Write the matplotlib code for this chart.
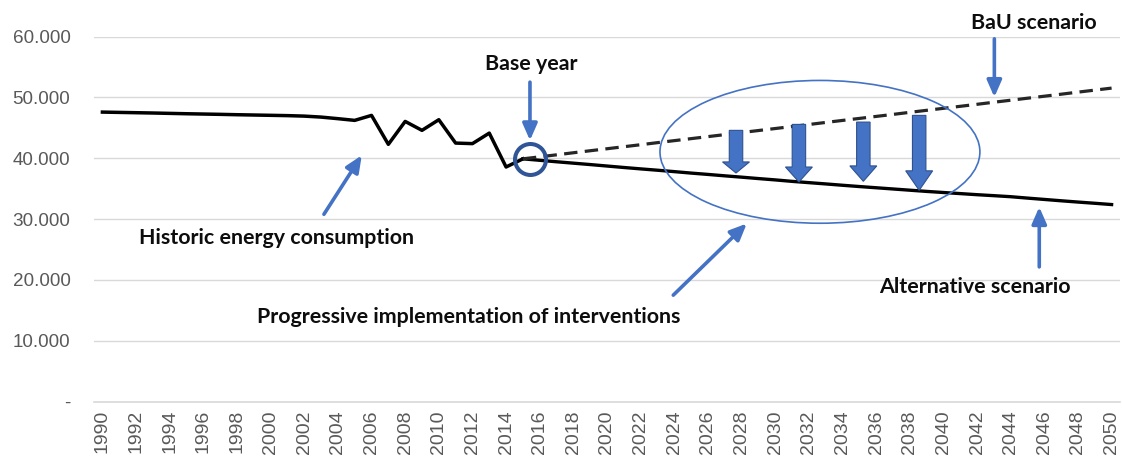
import matplotlib
matplotlib.use("Agg")
import matplotlib.pyplot as plt
from matplotlib.patches import Ellipse, FancyArrow
from matplotlib.ticker import FuncFormatter, FixedLocator

# ---- data -------------------------------------------------------------
hist_years = list(range(1990, 2016))
hist_energy = [47580, 47530, 47480, 47430, 47370, 47310, 47260, 47210, 47150,
               47100, 47050, 47000, 46920, 46760, 46500, 46220, 47040, 42280,
               46050, 44580, 46330, 42490, 42400, 44130, 38560, 39900]

proj_years = list(range(2015, 2051))
bau_energy = [39900, 40230, 40560, 40900, 41230, 41560, 41890, 42220, 42560,
              42890, 43220, 43550, 43880, 44220, 44550, 44880, 45210, 45540,
              45880, 46210, 46540, 46870, 47200, 47540, 47870, 48200, 48530,
              48860, 49200, 49530, 49860, 50190, 50520, 50860, 51190, 51520]
alt_energy = [39900, 39660, 39420, 39190, 38960, 38720, 38480, 38250, 38030,
              37800, 37560, 37340, 37110, 36890, 36660, 36440, 36200, 35990,
              35780, 35560, 35350, 35150, 34950, 34750, 34550, 34370, 34190,
              34010, 33850, 33680, 33450, 33230, 33010, 32800, 32600, 32390]

base_year = 2015.42
base_value = 39900

# savings arrows: x position, top and tip values
saving_x = [2027.67, 2031.41, 2035.24, 2038.56]
saving_top = [44580, 45560, 45940, 47040]
saving_tip = [37570, 36100, 36210, 34730]

y_ticks = [0, 10000, 20000, 30000, 40000, 50000, 60000]
x_tick_years = list(range(1990, 2051, 2))

# ---- style ------------------------------------------------------------
BLUE = "#4472C4"
DARK_BLUE = "#2F5597"
TICK_GREY = "#595959"
GRID_GREY = "#D9D9D9"
ANNOT_FONT = dict(family="Lato", fontweight="bold", fontsize=15.4, color="#0D0D0D")

fig = plt.figure(figsize=(11.22, 4.68), dpi=100)
ax = fig.add_axes([94 / 1122, (468 - 401.7) / 468, 1026 / 1122, 365.2 / 468])

ax.set_xlim(1989.5, 2050.5)
ax.set_ylim(0, 60000)

# lines
ax.plot(hist_years, hist_energy, color="black", lw=2.5, solid_joinstyle="round", zorder=4)
ax.plot(proj_years, alt_energy, color="black", lw=2.4, zorder=4)
ax.plot(proj_years, bau_energy, color="#262626", lw=2.3, dashes=(4.2, 2.3), zorder=4)

# axes styling
for side in ("top", "right", "left"):
    ax.spines[side].set_visible(False)
ax.spines["bottom"].set_color(GRID_GREY)
ax.spines["bottom"].set_linewidth(1.2)
ax.yaxis.set_major_locator(FixedLocator(y_ticks))
ax.yaxis.set_major_formatter(FuncFormatter(
    lambda v, _: "-" if v == 0 else f"{int(v):,}".replace(",", ".")))
ax.xaxis.set_major_locator(FixedLocator(x_tick_years))
ax.set_xticklabels([str(y) for y in x_tick_years], rotation=90)
ax.grid(axis="y", color=GRID_GREY, lw=1.0, zorder=0)
ax.set_axisbelow(True)
ax.tick_params(axis="y", length=0, pad=17, labelsize=13.6, labelcolor=TICK_GREY)
ax.tick_params(axis="x", length=0, pad=6, labelsize=14, labelcolor=TICK_GREY)
for lab in ax.get_xticklabels() + ax.get_yticklabels():
    lab.set_family("Liberation Sans")

# intervention ellipse and base-year circle
ax.add_patch(Ellipse((2032.66, 41050), width=19.02, height=23460,
                     fill=False, edgecolor=BLUE, lw=1.2, zorder=5))
ax.plot([base_year], [base_value], marker="o", ms=22.3, mfc="none",
        mec=DARK_BLUE, mew=2.9, zorder=6)

# block arrows showing the savings between the scenarios
for x, top, tip in zip(saving_x, saving_top, saving_tip):
    length = top - tip
    ax.add_patch(FancyArrow(x, top, 0, -length, width=0.8, head_width=1.6,
                            head_length=length * 0.26, length_includes_head=True,
                            facecolor=BLUE, edgecolor="#2F528F", lw=0.8, zorder=6))

# pointer arrows with labels
arrow_kw = dict(arrowstyle="-|>,head_length=0.5,head_width=0.22", color=BLUE,
                lw=2.6, mutation_scale=20, shrinkA=0, shrinkB=0)

def pointer(tail, tip):
    ax.annotate("", xy=tip, xytext=tail, arrowprops=arrow_kw, zorder=7,
                annotation_clip=False)

pointer((2043.03, 59620), (2043.03, 50040))
ax.text(2045.38, 61260, "BaU scenario", ha="center", va="baseline", **ANNOT_FONT)

pointer((2015.42, 52500), (2015.42, 42930))
ax.text(2015.51, 54420, "Base year", ha="center", va="baseline", **ANNOT_FONT)

pointer((2003.17, 30795), (2005.42, 40475))
ax.text(2000.35, 25990, "Historic energy consumption", ha="center", va="baseline", **ANNOT_FONT)

pointer((2023.94, 17505), (2028.31, 29270))
ax.text(2011.80, 12960, "Progressive implementation of interventions", ha="center",
        va="baseline", **ANNOT_FONT)

pointer((2045.70, 22150), (2045.70, 31990))
ax.text(2041.88, 17785, "Alternative scenario", ha="center", va="baseline", **ANNOT_FONT)

fig.savefig("out.png", dpi=100)
